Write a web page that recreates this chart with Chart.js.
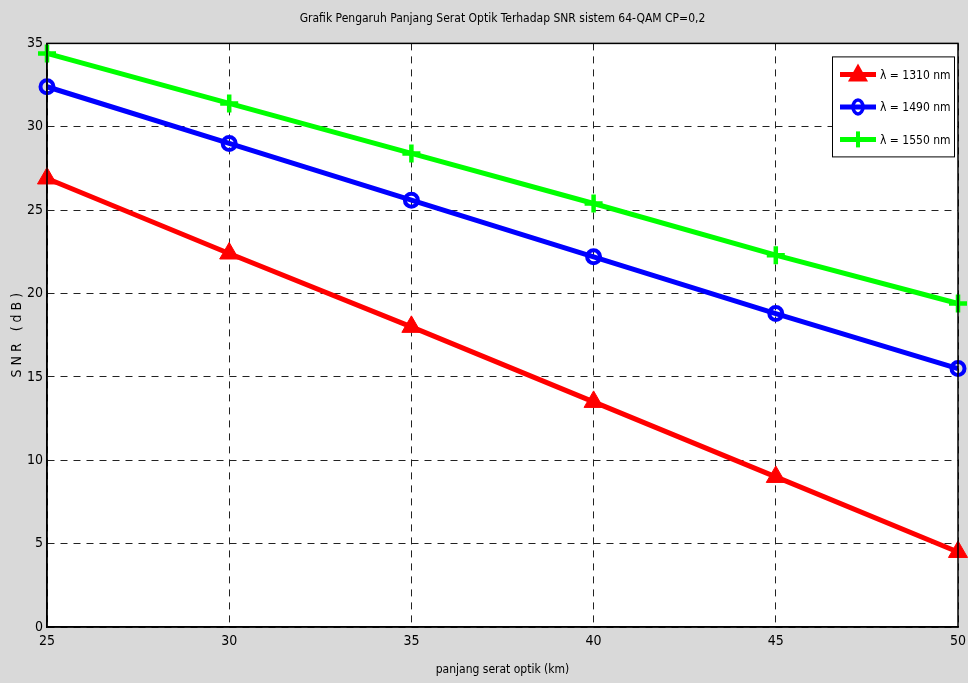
<!DOCTYPE html>
<html>
<head>
<meta charset="utf-8">
<script src="https://cdn.jsdelivr.net/npm/chart.js@4"></script>
<style>
  html, body { margin: 0; padding: 0; background: #d9d9d9; }
  #wrap { width: 968px; height: 683px; }
</style>
</head>
<body>
<div id="wrap"><canvas id="myChart" width="968" height="683"></canvas></div>
<script>
const panjang = [25, 30, 35, 40, 45, 50];
const snr1310 = [26.9, 22.4, 18.0, 13.5, 9.0, 4.5];
const snr1490 = [32.4, 29.0, 25.6, 22.2, 18.8, 15.5];
const snr1550 = [34.4, 31.4, 28.4, 25.4, 22.3, 19.4];
const seriesLabels = ['\u03bb = 1310 nm', '\u03bb = 1490 nm', '\u03bb = 1550 nm'];

const FONT = '"DejaVu Sans Condensed", "Liberation Sans Narrow", "Liberation Sans", Arial, sans-serif';

function pts(vals) {
    return panjang.map((x, i) => ({ x: x, y: vals[i] }));
}

// white plot area + black frame
const frame = {
    id: 'frame',
    beforeDraw(chart) {
        const a = chart.chartArea, ctx = chart.ctx;
        ctx.save();
        ctx.fillStyle = '#ffffff';
        ctx.fillRect(a.left, a.top, a.right - a.left, a.bottom - a.top);
        ctx.restore();
    },
    afterDatasetsDraw(chart) {
        const a = chart.chartArea, ctx = chart.ctx;
        ctx.save();
        ctx.strokeStyle = '#000';
        ctx.lineWidth = 1.5;
        ctx.strokeRect(a.left, a.top, a.right - a.left, a.bottom - a.top);
        ctx.restore();
    }
};

// boxed legend in the upper right corner, like the original figure
const boxLegend = {
    id: 'boxLegend',
    afterDraw(chart) {
        const ctx = chart.ctx, a = chart.chartArea;
        const x0 = a.right - 126, y0 = a.top + 13, w = 122, h = 100;
        ctx.save();
        ctx.fillStyle = '#fff';
        ctx.fillRect(x0, y0, w, h);
        ctx.strokeStyle = '#000';
        ctx.lineWidth = 1;
        ctx.strokeRect(x0 + 0.5, y0 + 0.5, w, h);
        chart.data.datasets.forEach((ds, i) => {
            const cy = y0 + 18 + i * 32.5;
            ctx.strokeStyle = ds.borderColor;
            ctx.lineWidth = 5;
            ctx.beginPath();
            ctx.moveTo(x0 + 8, cy);
            ctx.lineTo(x0 + 44, cy);
            ctx.stroke();
            const mx = x0 + 26;
            ctx.fillStyle = ds.borderColor;
            if (ds.pointStyle === 'triangle') {
                ctx.beginPath();
                ctx.moveTo(mx, cy - 11);
                ctx.lineTo(mx + 10, cy + 7);
                ctx.lineTo(mx - 10, cy + 7);
                ctx.closePath();
                ctx.fill();
            } else if (ds.pointStyle === 'circle') {
                ctx.lineWidth = 3.5;
                ctx.beginPath();
                ctx.ellipse(mx, cy, 5, 7, 0, 0, Math.PI * 2);
                ctx.stroke();
            } else {
                ctx.lineWidth = 4;
                ctx.beginPath();
                ctx.moveTo(mx, cy - 8);
                ctx.lineTo(mx, cy + 8);
                ctx.stroke();
            }
            ctx.fillStyle = '#000';
            ctx.font = '12px ' + FONT;
            ctx.textBaseline = 'middle';
            ctx.fillText(ds.label, x0 + 48, cy + 1);
        });
        ctx.restore();
    }
};

const ctx = document.getElementById('myChart');

const data = {
    datasets: [
        {
            label: seriesLabels[0],
            data: pts(snr1310),
            borderColor: 'rgb(255, 0, 0)',
            backgroundColor: 'rgb(255, 0, 0)',
            borderWidth: 5,
            pointStyle: 'triangle',
            pointRadius: 11,
            pointBorderWidth: 1,
        },
        {
            label: seriesLabels[1],
            data: pts(snr1490),
            borderColor: 'rgb(0, 0, 255)',
            backgroundColor: 'rgba(255, 255, 255, 0)',
            borderWidth: 5,
            pointStyle: 'circle',
            pointRadius: 6.5,
            pointBorderWidth: 4,
        },
        {
            label: seriesLabels[2],
            data: pts(snr1550),
            borderColor: 'rgb(0, 255, 0)',
            backgroundColor: 'rgb(0, 255, 0)',
            borderWidth: 5,
            pointStyle: 'cross',
            pointRadius: 9,
            pointBorderWidth: 4.5,
        },
    ]
};

const gridStyle = {
    color: '#222',
    lineWidth: 1,
    drawTicks: false,
};

const config = {
    type: 'line',
    data: data,
    plugins: [frame, boxLegend],
    options: {
        responsive: false,
        animation: false,
        clip: false,
        layout: {
            autoPadding: false,
            padding: { right: 10, left: 0, bottom: 0, top: 0 }
        },
        plugins: {
            legend: { display: false },
            tooltip: { enabled: false },
            title: {
                display: true,
                fullSize: false,
                text: 'Grafik Pengaruh Panjang Serat Optik Terhadap SNR sistem 64-QAM CP=0,2',
                color: '#000',
                font: { family: FONT, size: 12, weight: 'normal' },
                padding: { top: 12, bottom: 17 }
            }
        },
        scales: {
            x: {
                type: 'linear',
                min: 25,
                max: 50,
                ticks: {
                    stepSize: 5,
                    color: '#000',
                    padding: 6,
                    font: { family: FONT, size: 14 }
                },
                grid: gridStyle,
                border: { display: true, color: '#000', width: 1.5, dash: [7, 6] },
                title: {
                    display: true,
                    text: 'panjang serat optik (km)',
                    color: '#000',
                    font: { family: FONT, size: 12 },
                    padding: { top: 0, bottom: 6 }
                },
                afterFit(scale) {
                    scale.height = 56;
                    scale.paddingRight = 0;
                }
            },
            y: {
                min: 0,
                max: 35,
                ticks: {
                    stepSize: 5,
                    color: '#000',
                    padding: 4,
                    font: { family: FONT, size: 14 }
                },
                grid: gridStyle,
                border: { display: true, color: '#000', width: 1.5, dash: [7, 6] },
                title: {
                    display: true,
                    text: 'S N R   ( d B )',
                    color: '#000',
                    font: { family: FONT, size: 14 },
                    padding: { top: 9, bottom: 0 }
                },
                afterFit(scale) { scale.width = 47; }
            }
        }
    }
};

new Chart(ctx, config);
</script>
</body>
</html>
